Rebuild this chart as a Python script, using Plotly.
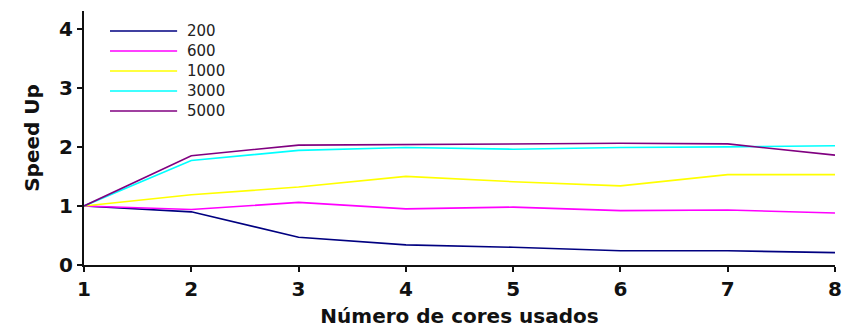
import plotly.graph_objects as go

cores = [1, 2, 3, 4, 5, 6, 7, 8]
series_names = ["200", "600", "1000", "3000", "5000"]
s200 = [1.00, 0.90, 0.47, 0.34, 0.30, 0.24, 0.24, 0.21]
s600 = [1.00, 0.94, 1.06, 0.95, 0.98, 0.92, 0.93, 0.88]
s1000 = [1.00, 1.19, 1.32, 1.50, 1.41, 1.34, 1.53, 1.53]
s3000 = [1.00, 1.77, 1.94, 1.99, 1.96, 1.99, 2.00, 2.02]
s5000 = [1.00, 1.85, 2.03, 2.04, 2.06, 2.06, 2.05, 1.86]
series_values = [s200, s600, s1000, s3000, s5000]
colors = ["#000080", "#ff00ff", "#ffff00", "#00ffff", "#800080"]
x_ticks = [1, 2, 3, 4, 5, 6, 7, 8]
y_ticks = [0, 1, 2, 3, 4]

fig = go.Figure()
for name, vals, col in zip(series_names, series_values, colors):
    fig.add_trace(go.Scatter(x=cores, y=vals, mode="lines", name=name,
                             line=dict(color=col, width=1.6), showlegend=False))

# custom legend (long line samples, no frame)
leg_y0 = 0.921
leg_dy = 0.0787
for i, (name, col) in enumerate(zip(series_names, colors)):
    yy = leg_y0 - i * leg_dy
    fig.add_shape(type="line", xref="paper", yref="paper",
                  x0=0.0346, x1=0.124, y0=yy, y1=yy,
                  line=dict(color=col, width=1.6))
    fig.add_annotation(xref="paper", yref="paper", x=0.135, y=yy,
                       text=name, showarrow=False, xanchor="left", yanchor="middle",
                       font=dict(family="DejaVu Sans", size=15, color="#222"))

axis_common = dict(showline=True, linecolor="#111", linewidth=2, ticks="outside",
                   ticklen=5, tickwidth=1.5, tickcolor="#111", showgrid=False,
                   zeroline=False, automargin=False,
                   tickfont=dict(family="DejaVu Sans", size=20, color="#111", weight="bold"))

fig.update_layout(
    width=848, height=328,
    margin=dict(l=84, r=13, t=11, b=63),
    paper_bgcolor="white", plot_bgcolor="white",
    xaxis=dict(range=[1, 8], tickvals=x_ticks,
               title=dict(text="Número de cores usados", standoff=14,
                          font=dict(family="DejaVu Sans", size=20, color="#111", weight="bold")),
               **axis_common),
    yaxis=dict(range=[0, 4.3], tickvals=y_ticks,
               title=dict(text="Speed Up", standoff=14,
                          font=dict(family="DejaVu Sans", size=20, color="#111", weight="bold")),
               **axis_common),
)

fig.write_html("out.html")
